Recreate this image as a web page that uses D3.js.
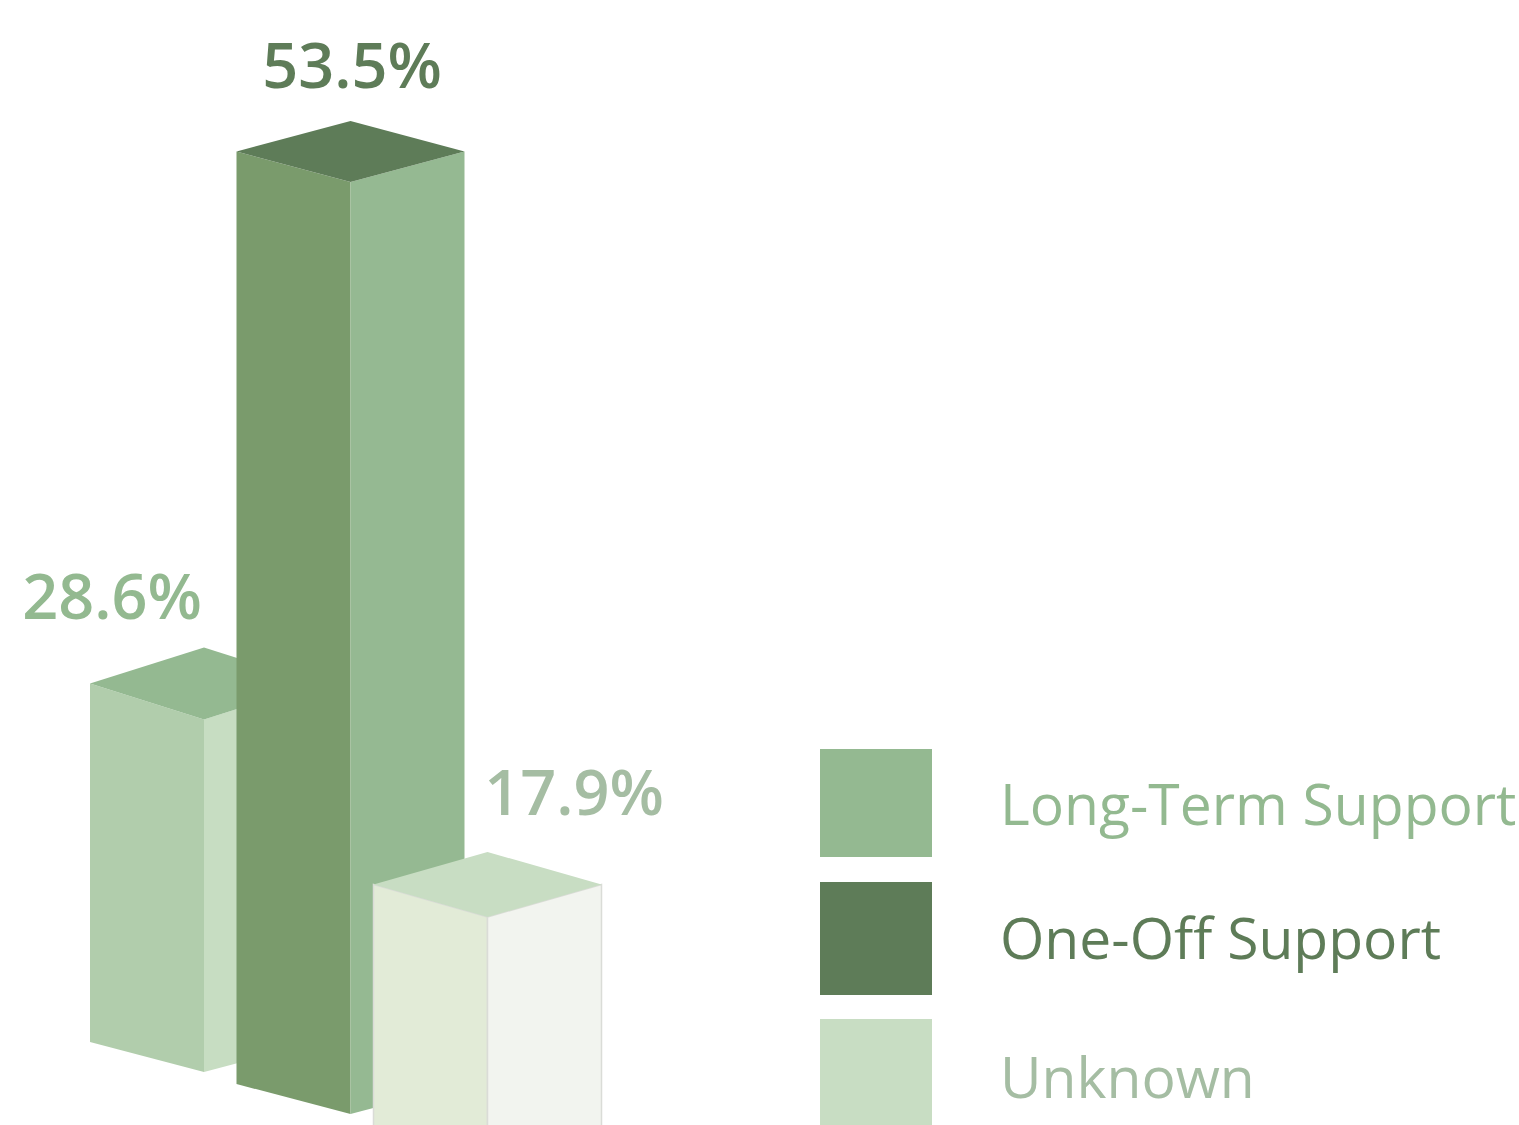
<!DOCTYPE html>
<html>
<head>
<meta charset="utf-8">
<script src="https://cdn.jsdelivr.net/npm/d3@7"></script>
<style>
  html, body { margin: 0; padding: 0; background: #fff; overflow: hidden; }
  text { font-family: "Open Sans", sans-serif; }
</style>
</head>
<body>
<svg></svg>
<script>
var categories = ["Long-Term Support", "One-Off Support", "Unknown"];
var values = [28.6, 53.5, 17.9];
var labels = ["28.6%", "53.5%", "17.9%"];

var svgWidth = 1519, svgHeight = 1125;
var halfWidth = 114;

var svg = d3.select("svg")
    .attr("width", svgWidth)
    .attr("height", svgHeight);

// bars in the picture are not proportional to their value, so the scale goes through each one
var yTop = d3.scaleLinear().domain([17.9, 28.6, 53.5]).range([917, 719.5, 182]);
var xCenter = d3.scaleOrdinal(categories, [204, 350.5, 487.5]);
var yBase = d3.scaleOrdinal(categories, [1072, 1114, 1178]);
var topRise = d3.scaleOrdinal(categories, [36, 30.5, 32.5]);
var leftColor = d3.scaleOrdinal(categories, ["#b1cdac", "#7a9b6c", "#e2ebd7"]);
var rightColor = d3.scaleOrdinal(categories, ["#c7ddc2", "#95b992", "#f2f4ef"]);
var topColor = d3.scaleOrdinal(categories, ["#94b991", "#5e7c58", "#c8ddc3"]);
var edgeColor = d3.scaleOrdinal(categories, ["none", "none", "#dadcd7"]);
var textColor = d3.scaleOrdinal(categories, ["#93b990", "#5e7c58", "#a5bda3"]);

var line = d3.line();

var bars = svg.selectAll("g.bar")
    .data(categories)
    .enter()
    .append("g")
    .attr("class", "bar");

bars.append("path")
    .attr("d", function (d, i) {
        var x = xCenter(d), t = yTop(values[i]), b = yBase(d), r = topRise(d);
        return line([[x - halfWidth, t - r], [x, t], [x, b], [x - halfWidth, b - 30]]) + "Z";
    })
    .attr("fill", leftColor)
    .attr("stroke", edgeColor)
    .attr("stroke-width", 1.5);

bars.append("path")
    .attr("d", function (d, i) {
        var x = xCenter(d), t = yTop(values[i]), b = yBase(d), r = topRise(d);
        return line([[x, t], [x + halfWidth, t - r], [x + halfWidth, b - 30], [x, b]]) + "Z";
    })
    .attr("fill", rightColor)
    .attr("stroke", edgeColor)
    .attr("stroke-width", 1.5);

bars.append("path")
    .attr("d", function (d, i) {
        var x = xCenter(d), t = yTop(values[i]), r = topRise(d);
        return line([[x - halfWidth, t - r], [x, t - 2 * r], [x + halfWidth, t - r], [x, t]]) + "Z";
    })
    .attr("fill", topColor);

// value labels
var labelX = d3.scaleOrdinal(categories, [112, 352, 574]);
var labelY = d3.scaleOrdinal(categories, [619, 87.5, 815]);

svg.selectAll("text.value")
    .data(categories)
    .enter()
    .append("text")
    .attr("class", "value")
    .attr("x", labelX)
    .attr("y", labelY)
    .attr("text-anchor", "middle")
    .attr("font-size", 63)
    .attr("font-weight", 600)
    .attr("fill", textColor)
    .text(function (d, i) { return labels[i]; });

// legend
var legendTop = d3.scaleOrdinal(categories, [749, 882, 1019]);
var legendBottom = d3.scaleOrdinal(categories, [857, 995, 1132]);
var legendBaseline = d3.scaleOrdinal(categories, [825, 959, 1098]);

var legend = svg.selectAll("g.legend")
    .data(categories)
    .enter()
    .append("g")
    .attr("class", "legend");

legend.append("rect")
    .attr("x", 820)
    .attr("y", legendTop)
    .attr("width", 112)
    .attr("height", function (d) { return legendBottom(d) - legendTop(d); })
    .attr("fill", function (d) { return topColor(d); });

legend.append("text")
    .attr("x", 1000)
    .attr("y", legendBaseline)
    .attr("font-size", 57)
    .attr("fill", textColor)
    .text(function (d) { return d; });
</script>
</body>
</html>
